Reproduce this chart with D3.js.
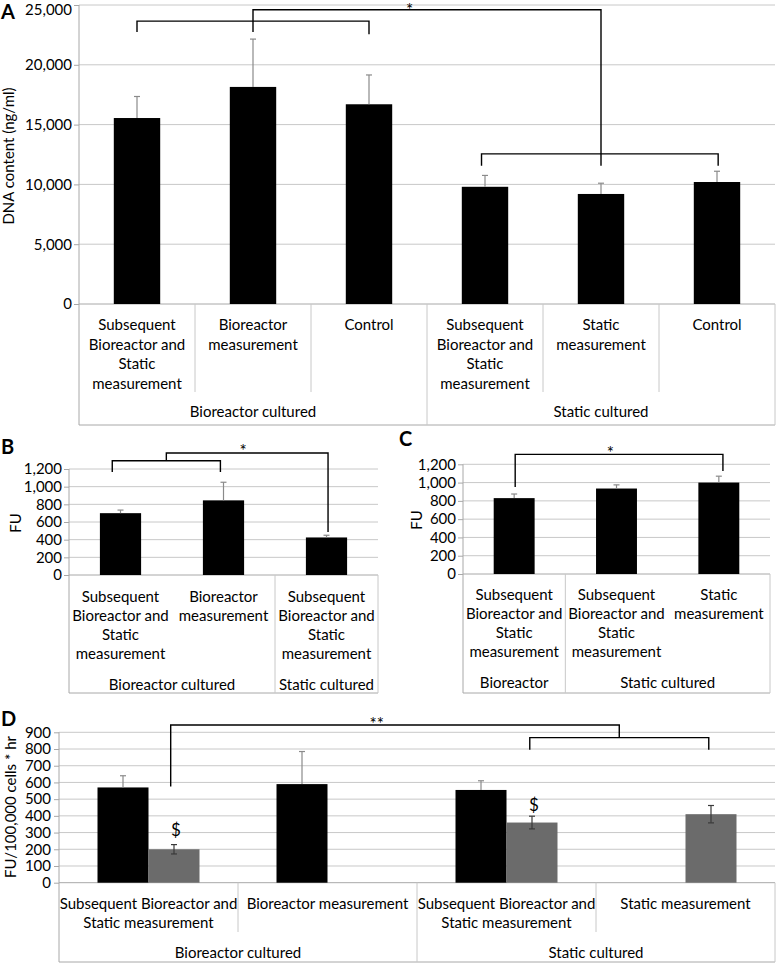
<!DOCTYPE html>
<html><head><meta charset="utf-8">
<script src="https://cdn.jsdelivr.net/npm/d3@7/dist/d3.min.js"></script>
<style>
html,body{margin:0;padding:0;background:#fff;}
svg text{font-family:Lato,"Open Sans",sans-serif;fill:#000;}
</style></head>
<body><svg id="chart" width="777" height="963"></svg>
<script>
// ---------- Panel A ----------
const aCategories = ["Subsequent|Bioreactor and|Static|measurement","Bioreactor|measurement","Control","Subsequent|Bioreactor and|Static|measurement","Static|measurement","Control"];
const aGroups = ["Bioreactor cultured","Static cultured"];
const aGroupSizes = [3,3];
const aValues = [15550, 18150, 16700, 9800, 9200, 10200];
const aErrors = [1800, 4000, 2450, 950, 900, 900];
const aTicks = [0, 5000, 10000, 15000, 20000, 25000];
// brackets: [leftPos, rightPos (band units), top value, left leg bottom, right leg bottom]
const aBrackets = [[0.5, 2.5, 23650, 22750, 22550], [3.47, 5.51, 12550, 11550, 11550], [1.5, 4.5, 24600, 22750, 11550]];
const aMarks = [["*", 2.85, 24900]];

// ---------- Panel B ----------
const bCategories = ["Subsequent|Bioreactor and|Static|measurement","Bioreactor|measurement","Subsequent|Bioreactor and|Static|measurement"];
const bGroups = ["Bioreactor cultured","Static cultured"];
const bGroupSizes = [2,1];
const bValues = [700, 845, 425];
const bErrors = [35, 205, 25];
const bTicks = [0, 200, 400, 600, 800, 1000, 1200];
const bBrackets = [[0.42, 1.47, 1294, 1166, 1166], [0.945, 2.515, 1381, 1294, 487]];
const bMarks = [["*", 1.69, 1449]];

// ---------- Panel C ----------
const cCategories = ["Subsequent|Bioreactor and|Static|measurement","Subsequent|Bioreactor and|Static|measurement","Static|measurement"];
const cGroups = ["Bioreactor","Static cultured"];
const cGroupSizes = [1,2];
const cValues = [830, 935, 1000];
const cErrors = [45, 40, 70];
const cTicks = [0, 200, 400, 600, 800, 1000, 1200];
const cBrackets = [[0.51, 2.54, 1309, 952, 1127]];
const cMarks = [["*", 1.44, 1367]];

// ---------- Panel D ----------
const dCategories = ["Subsequent Bioreactor and|Static measurement","Bioreactor measurement","Subsequent Bioreactor and|Static measurement","Static measurement"];
const dGroups = ["Bioreactor cultured","Static cultured"];
const dGroupSizes = [2,2];
const dBlack = [570, 590, 555, null];
const dBlackErr = [70, 195, 55, 0];
const dGrey = [200, null, 360, 410];
const dGreyErr = [28, 0, 38, 52];
const dTicks = [0, 100, 200, 300, 400, 500, 600, 700, 800, 900];
const dBrackets = [[2.63, 3.63, 868, 795, 795], [0.624, 3.13, 944, 575, 868]];
const dMarks = [["**", 1.775, 975], ["$", 0.653, 316], ["$", 2.653, 466]];

const FS = 15;
const svg = d3.select("#chart");
const GRID = "#c8c8c8", AXIS = "#a8a8a8";

function panel(cfg) {
  const g = svg.append("g");
  const n = cfg.categories.length;
  const y = d3.scaleLinear().domain([0, d3.max(cfg.ticks)]).range([cfg.y0, cfg.yTop]);
  const x = d3.scaleBand().domain(d3.range(n)).range([cfg.x0, cfg.x1]).padding(0);
  const step = x.step();
  const px = u => cfg.x0 + u * step;

  // gridlines
  g.selectAll(".grid").data(cfg.ticks.filter(t => t > 0)).join("line")
    .attr("x1", cfg.x0).attr("x2", cfg.x1)
    .attr("y1", d => y(d)).attr("y2", d => y(d))
    .attr("stroke", GRID).attr("stroke-width", 1);

  // y axis
  const ax = g.append("g").attr("transform", `translate(${cfg.x0},0)`)
    .call(d3.axisLeft(y).tickValues(cfg.ticks).tickSize(5).tickPadding(cfg.tickPad).tickFormat(d3.format(",")));
  ax.select(".domain").attr("stroke", AXIS).attr("d", `M0,${cfg.y0}V${cfg.yTop}`);
  ax.selectAll(".tick line").attr("stroke", AXIS);
  ax.selectAll(".tick text").attr("font-size", FS).attr("font-family", "Lato")
    .attr("y", d => (y(d) < 10 ? 10 - y(d) : 0));
  g.append("line").attr("x1", cfg.x0).attr("x2", cfg.x1).attr("y1", cfg.y0).attr("y2", cfg.y0).attr("stroke", AXIS);

  // bars
  if (cfg.series) {
    const xs = d3.scaleBand().domain(d3.range(cfg.series.length)).range([0, step]).paddingInner(0).paddingOuter(0.755);
    cfg.series.forEach((s, si) => {
      const vals = s.values, errs = s.errors;
      const idx = d3.range(n).filter(i => vals[i] != null);
      g.selectAll(null).data(idx).join("rect")
        .attr("x", i => x(i) + xs(si)).attr("width", xs.bandwidth())
        .attr("y", i => y(vals[i])).attr("height", i => y(0) - y(vals[i]))
        .attr("fill", s.color);
      idx.forEach(i => {
        const cx = x(i) + xs(si) + xs.bandwidth() / 2;
        const yt = y(vals[i] + errs[i]);
        const yb = s.upOnly ? y(vals[i]) : y(vals[i] - errs[i]);
        g.append("line").attr("x1", cx).attr("x2", cx).attr("y1", yt).attr("y2", yb).attr("stroke", s.errColor).attr("stroke-width", 1.2);
        const caps = s.upOnly ? [yt] : [yt, yb];
        caps.forEach(yy => g.append("line").attr("x1", cx - 3).attr("x2", cx + 3).attr("y1", yy).attr("y2", yy).attr("stroke", s.errColor).attr("stroke-width", 1.2));
      });
    });
  } else {
    const bw = step * 0.4;
    g.selectAll(null).data(cfg.values).join("rect")
      .attr("x", (d, i) => x(i) + (step - bw) / 2).attr("width", bw)
      .attr("y", d => y(d)).attr("height", d => y(0) - y(d))
      .attr("fill", "#000");
    cfg.values.forEach((v, i) => {
      const cx = x(i) + step / 2;
      const yt = y(v + cfg.errors[i]);
      g.append("line").attr("x1", cx).attr("x2", cx).attr("y1", yt).attr("y2", y(v)).attr("stroke", "#8a8a8a").attr("stroke-width", 1.2);
      g.append("line").attr("x1", cx - 3).attr("x2", cx + 3).attr("y1", yt).attr("y2", yt).attr("stroke", "#8a8a8a").attr("stroke-width", 1.2);
    });
  }

  // category axis box
  const groupBounds = [0];
  cfg.groupSizes.forEach(s => groupBounds.push(groupBounds[groupBounds.length - 1] + s));
  const line = (x1, y1, x2, y2, c) => g.append("line").attr("x1", x1).attr("y1", y1).attr("x2", x2).attr("y2", y2).attr("stroke", c || GRID).attr("stroke-width", 1);
  line(cfg.x0, cfg.y0, cfg.x0, cfg.bottom, AXIS);
  line(cfg.x0, cfg.bottom, cfg.x1, cfg.bottom, AXIS);
  line(cfg.x1, cfg.y0, cfg.x1, cfg.bottom, GRID);
  groupBounds.slice(1, -1).forEach(b => line(px(b), cfg.y0, px(b), cfg.bottom));
  if (cfg.innerSeps) {
    d3.range(1, n).filter(b => !groupBounds.includes(b)).forEach(b => line(px(b), cfg.y0, px(b), cfg.innerBottom));
  }
  // category labels
  cfg.categories.forEach((c, i) => {
    const t = g.append("text").attr("text-anchor", "middle").attr("font-size", FS);
    c.split("|").forEach((l, k) => t.append("tspan").attr("x", x(i) + step / 2).attr("y", cfg.labelY + k * cfg.lineH).attr("dy", "0.35em").text(l));
  });
  cfg.groups.forEach((gname, gi) => {
    g.append("text").attr("text-anchor", "middle").attr("font-size", FS)
      .attr("x", (px(groupBounds[gi]) + px(groupBounds[gi + 1])) / 2).attr("y", cfg.groupY).attr("dy", "0.35em").text(gname);
  });

  // brackets
  cfg.brackets.forEach(b => {
    const [l, r, top, lb, rb] = b;
    g.append("path").attr("fill", "none").attr("stroke", "#000").attr("stroke-width", 1.4)
      .attr("d", `M${px(l)},${y(lb)}V${y(top)}H${px(r)}V${y(rb)}`);
  });
  cfg.marks.forEach(m => {
    const isDollar = m[0] === "$";
    g.append("text").attr("text-anchor", "middle").attr("font-size", 17)
      .attr("x", px(m[1])).attr("y", y(m[2])).attr("dy", isDollar ? "0.35em" : "0.6em").text(m[0]);
  });

  // y label
  g.append("text").attr("text-anchor", "middle").attr("font-size", FS)
    .attr("transform", `translate(${cfg.ylabX},${cfg.ylabY}) rotate(-90)`).attr("dy", "0.35em").text(cfg.ylabel);
  // panel letter
  g.append("text").attr("x", cfg.letterX).attr("y", cfg.letterY).attr("font-size", 20).attr("font-weight", "bold")
    .attr("font-family", "Liberation Sans, Arial, sans-serif").text(cfg.letter);
}

panel({letter: "A", letterX: 1, letterY: 19, categories: aCategories, groups: aGroups, groupSizes: aGroupSizes,
  values: aValues, errors: aErrors, ticks: aTicks, brackets: aBrackets, marks: aMarks,
  x0: 79, x1: 775, yTop: 5, y0: 304, bottom: 425, innerSeps: true, innerBottom: 392,
  labelY: 325, lineH: 19.5, groupY: 412, tickPad: 2, ylabel: "DNA content (ng/ml)", ylabX: 9, ylabY: 156});

panel({letter: "B", letterX: 1, letterY: 454, categories: bCategories, groups: bGroups, groupSizes: bGroupSizes,
  values: bValues, errors: bErrors, ticks: bTicks, brackets: bBrackets, marks: bMarks,
  x0: 69, x1: 378, yTop: 469, y0: 575, bottom: 693, innerSeps: false,
  labelY: 597, lineH: 18.8, groupY: 685, tickPad: 2, ylabel: "FU", ylabX: 16, ylabY: 523});

panel({letter: "C", letterX: 399, letterY: 446, categories: cCategories, groups: cGroups, groupSizes: cGroupSizes,
  values: cValues, errors: cErrors, ticks: cTicks, brackets: cBrackets, marks: cMarks,
  x0: 463, x1: 770, yTop: 464.3, y0: 574, bottom: 693, innerSeps: false,
  labelY: 595, lineH: 19, groupY: 683, tickPad: 2, ylabel: "FU", ylabX: 417, ylabY: 520});

panel({letter: "D", letterX: 1, letterY: 726, categories: dCategories, groups: dGroups, groupSizes: dGroupSizes,
  series: [{values: dBlack, errors: dBlackErr, color: "#000", errColor: "#8a8a8a", upOnly: true},
           {values: dGrey, errors: dGreyErr, color: "#6b6b6b", errColor: "#3a3a3a", upOnly: false}],
  ticks: dTicks, brackets: dBrackets, marks: dMarks,
  x0: 59, x1: 775, yTop: 732.3, y0: 882.7, bottom: 962, innerSeps: true, innerBottom: 932,
  labelY: 903.3, lineH: 19.4, groupY: 953, tickPad: 3, ylabel: "FU/100,000 cells * hr", ylabX: 11, ylabY: 807});
</script></body></html>
